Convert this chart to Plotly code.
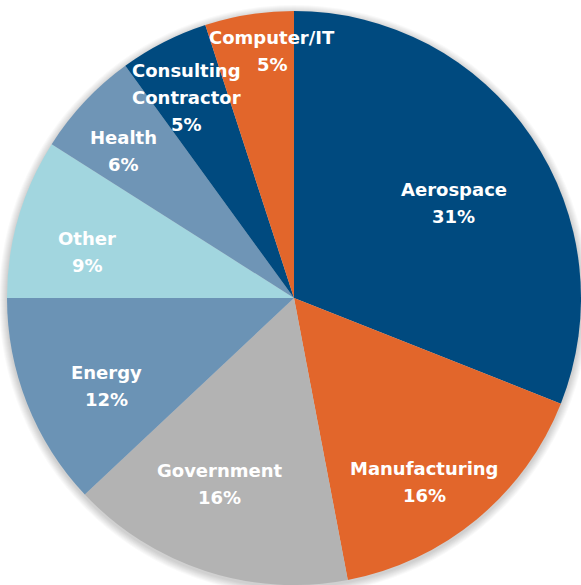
import math
import plotly.graph_objects as go

categories = ["Aerospace", "Manufacturing", "Government", "Energy", "Other",
              "Health", "Consulting Contractor", "Computer/IT"]
values = [31, 16, 16, 12, 9, 6, 5, 5]
label_lines = [["Aerospace"], ["Manufacturing"], ["Government"], ["Energy"], ["Other"],
               ["Health"], ["Consulting", "Contractor"], ["Computer/IT"]]
colors = ["#004a7f", "#e2662b", "#b3b3b3", "#6b93b5", "#a2d6df",
          "#6f95b6", "#004a7f", "#e2662b"]
# label radius as fraction of the pie radius, and small angular nudge (deg)
label_r = [0.65, 0.78, 0.69, 0.72, 0.74, 0.79, 0.80, 0.87]
label_da = [3, 4, 4, -3, -3, -2, -1, 4]

W, H = 581, 585
cx, cy, R = 294, 298, 287
LINE = 27

fig = go.Figure()
fig.add_trace(go.Pie(
    labels=categories, values=values, sort=False, direction="clockwise",
    rotation=0, marker=dict(colors=colors, line=dict(width=0)),
    textinfo="none", hoverinfo="label+percent", showlegend=False,
    domain=dict(x=[(cx - R) / W, (cx + R) / W], y=[1 - (cy + R) / H, 1 - (cy - R) / H]),
))

# soft shadow around the pie
shapes = []
for k in range(1, 9):
    shapes.append(dict(
        type="circle", xref="paper", yref="paper", layer="below",
        x0=(cx - R - k) / W, x1=(cx + R + k) / W,
        y0=1 - (cy + 2 + R + k) / H, y1=1 - (cy + 2 - R - k) / H,
        fillcolor="rgba(0,0,0,0.022)", line=dict(width=0),
    ))

total = sum(values)
cum = 0
annotations = []
for i, v in enumerate(values):
    mid = (cum + v / 2) / total * 360 + label_da[i]
    cum += v
    r = label_r[i] * R
    px = cx + r * math.sin(math.radians(mid))
    py = cy - r * math.cos(math.radians(mid))
    pct = round(v / total * 100)
    lines = label_lines[i] + [f"{pct}%"]
    n = len(lines)
    for j, t in enumerate(lines):
        annotations.append(dict(
            x=px / W, y=1 - py / H, xref="paper", yref="paper",
            text=t, showarrow=False, yshift=-(j - (n - 1) / 2) * LINE - 2,
            font=dict(family="DejaVu Sans", size=18, color="white", weight="bold"),
            align="center", xanchor="center", yanchor="middle",
        ))

fig.update_layout(
    width=W, height=H, margin=dict(l=0, r=0, t=0, b=0),
    paper_bgcolor="white", plot_bgcolor="white",
    annotations=annotations, shapes=shapes,
)
fig.write_html("out.html", config={"displayModeBar": False},
               post_script="document.body.style.margin='0';")
